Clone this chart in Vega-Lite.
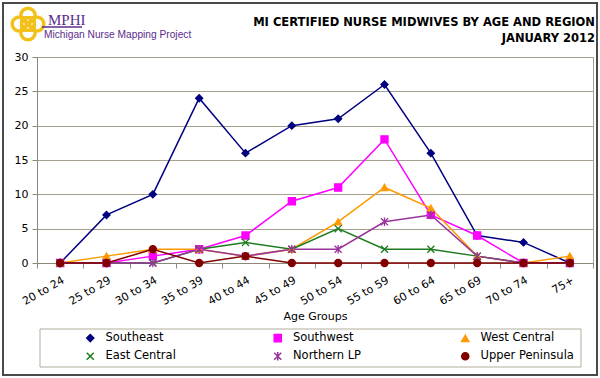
{
  "$schema": "https://vega.github.io/schema/vega-lite/v6.json",
  "width": 556,
  "height": 206,
  "autosize": {"type": "none"},
  "padding": {"left": 37, "top": 57, "right": 7, "bottom": 115},
  "background": "white",
  "title": {
    "text": ["MI CERTIFIED NURSE MIDWIVES BY AGE AND REGION", "JANUARY 2012"],
    "anchor": "end",
    "font": "DejaVu Sans",
    "fontSize": 11.5,
    "fontWeight": "bold",
    "lineHeight": 16,
    "color": "black",
    "offset": -43,
    "dx": -3
  },
  "config": {
    "view": {"stroke": "#A6A18E", "strokeWidth": 1},
    "font": "DejaVu Sans",
    "legend": {
      "direction": "horizontal",
      "columns": 3,
      "gridAlign": "all",
      "columnPadding": 71.5,
      "rowPadding": 3.5,
      "padding": 0,
      "labelFont": "DejaVu Sans",
      "labelFontSize": 11.5,
      "labelColor": "black",
      "labelOffset": 9.5,
      "labelLimit": 200,
      "symbolSize": 50,
      "symbolStrokeWidth": 1.5
    }
  },
  "layer": [
    {
      "data": {"values": [{"k": 1}]},
      "mark": {"type": "rect", "filled": false, "stroke": "#4a4a4a", "strokeWidth": 2},
      "encoding": {"x": {"value": -34}, "x2": {"value": 560}, "y": {"value": -54}, "y2": {"value": 318}}
    },
    {
      "data": {"values": [{"k": 1}]},
      "mark": {"type": "rect", "filled": false, "stroke": "#B3AD9B", "strokeWidth": 1},
      "encoding": {"x": {"value": 3}, "x2": {"value": 544}, "y": {"value": 272}, "y2": {"value": 310}}
    },
    {
      "data": {"values": [{"k": 1}]},
      "mark": {"type": "point", "shape": "M0.1,0A0.45,0.45,0,1,1,1,0A0.45,0.45,0,1,1,0.1,0ZM-1,0A0.45,0.45,0,1,1,-0.1,0A0.45,0.45,0,1,1,-1,0ZM0,0.1A0.45,0.45,0,1,1,0,1A0.45,0.45,0,1,1,0,0.1ZM0,-1A0.45,0.45,0,1,1,0,-0.1A0.45,0.45,0,1,1,0,-1ZM-0.4,-0.4H0.4V0.4H-0.4Z", "filled": false, "stroke": "#F2C21B", "strokeWidth": 3.5, "size": 1000, "opacity": 1},
      "encoding": {"x": {"value": -9}, "y": {"value": -33}}
    },
    {
      "data": {"values": [{"t": "MPHI"}]},
      "mark": {"type": "text", "font": "Liberation Serif", "fontSize": 15, "color": "#5B2C8C", "align": "left", "baseline": "alphabetic"},
      "encoding": {"text": {"field": "t"}, "x": {"value": 11}, "y": {"value": -32}}
    },
    {
      "data": {"values": [{"k": 1}]},
      "mark": {"type": "rule", "color": "#5B2C8C", "strokeWidth": 1.5},
      "encoding": {"x": {"value": 5}, "x2": {"value": 45}, "y": {"value": -30}}
    },
    {
      "data": {"values": [{"t": "Michigan Nurse Mapping Project"}]},
      "mark": {"type": "text", "font": "Liberation Sans", "fontSize": 10.2, "color": "#5B2C8C", "align": "left", "baseline": "alphabetic"},
      "encoding": {"text": {"field": "t"}, "x": {"value": 7}, "y": {"value": -19}}
    },
    {
      "data": {
        "values": [
          {"age": "20 to 24", "region": "Southeast", "count": 0},
          {"age": "25 to 29", "region": "Southeast", "count": 7},
          {"age": "30 to 34", "region": "Southeast", "count": 10},
          {"age": "35 to 39", "region": "Southeast", "count": 24},
          {"age": "40 to 44", "region": "Southeast", "count": 16},
          {"age": "45 to 49", "region": "Southeast", "count": 20},
          {"age": "50 to 54", "region": "Southeast", "count": 21},
          {"age": "55 to 59", "region": "Southeast", "count": 26},
          {"age": "60 to 64", "region": "Southeast", "count": 16},
          {"age": "65 to 69", "region": "Southeast", "count": 4},
          {"age": "70 to 74", "region": "Southeast", "count": 3},
          {"age": "75+", "region": "Southeast", "count": 0},
          {"age": "20 to 24", "region": "Southwest", "count": 0},
          {"age": "25 to 29", "region": "Southwest", "count": 0},
          {"age": "30 to 34", "region": "Southwest", "count": 1},
          {"age": "35 to 39", "region": "Southwest", "count": 2},
          {"age": "40 to 44", "region": "Southwest", "count": 4},
          {"age": "45 to 49", "region": "Southwest", "count": 9},
          {"age": "50 to 54", "region": "Southwest", "count": 11},
          {"age": "55 to 59", "region": "Southwest", "count": 18},
          {"age": "60 to 64", "region": "Southwest", "count": 7},
          {"age": "65 to 69", "region": "Southwest", "count": 4},
          {"age": "70 to 74", "region": "Southwest", "count": 0},
          {"age": "75+", "region": "Southwest", "count": 0},
          {"age": "20 to 24", "region": "West Central", "count": 0},
          {"age": "25 to 29", "region": "West Central", "count": 1},
          {"age": "30 to 34", "region": "West Central", "count": 2},
          {"age": "35 to 39", "region": "West Central", "count": 2},
          {"age": "40 to 44", "region": "West Central", "count": 1},
          {"age": "45 to 49", "region": "West Central", "count": 2},
          {"age": "50 to 54", "region": "West Central", "count": 6},
          {"age": "55 to 59", "region": "West Central", "count": 11},
          {"age": "60 to 64", "region": "West Central", "count": 8},
          {"age": "65 to 69", "region": "West Central", "count": 1},
          {"age": "70 to 74", "region": "West Central", "count": 0},
          {"age": "75+", "region": "West Central", "count": 1},
          {"age": "20 to 24", "region": "East Central", "count": 0},
          {"age": "25 to 29", "region": "East Central", "count": 0},
          {"age": "30 to 34", "region": "East Central", "count": 0},
          {"age": "35 to 39", "region": "East Central", "count": 2},
          {"age": "40 to 44", "region": "East Central", "count": 3},
          {"age": "45 to 49", "region": "East Central", "count": 2},
          {"age": "50 to 54", "region": "East Central", "count": 5},
          {"age": "55 to 59", "region": "East Central", "count": 2},
          {"age": "60 to 64", "region": "East Central", "count": 2},
          {"age": "65 to 69", "region": "East Central", "count": 1},
          {"age": "70 to 74", "region": "East Central", "count": 0},
          {"age": "75+", "region": "East Central", "count": 0},
          {"age": "20 to 24", "region": "Northern LP", "count": 0},
          {"age": "25 to 29", "region": "Northern LP", "count": 0},
          {"age": "30 to 34", "region": "Northern LP", "count": 0},
          {"age": "35 to 39", "region": "Northern LP", "count": 2},
          {"age": "40 to 44", "region": "Northern LP", "count": 1},
          {"age": "45 to 49", "region": "Northern LP", "count": 2},
          {"age": "50 to 54", "region": "Northern LP", "count": 2},
          {"age": "55 to 59", "region": "Northern LP", "count": 6},
          {"age": "60 to 64", "region": "Northern LP", "count": 7},
          {"age": "65 to 69", "region": "Northern LP", "count": 1},
          {"age": "70 to 74", "region": "Northern LP", "count": 0},
          {"age": "75+", "region": "Northern LP", "count": 0},
          {"age": "20 to 24", "region": "Upper Peninsula", "count": 0},
          {"age": "25 to 29", "region": "Upper Peninsula", "count": 0},
          {"age": "30 to 34", "region": "Upper Peninsula", "count": 2},
          {"age": "35 to 39", "region": "Upper Peninsula", "count": 0},
          {"age": "40 to 44", "region": "Upper Peninsula", "count": 1},
          {"age": "45 to 49", "region": "Upper Peninsula", "count": 0},
          {"age": "50 to 54", "region": "Upper Peninsula", "count": 0},
          {"age": "55 to 59", "region": "Upper Peninsula", "count": 0},
          {"age": "60 to 64", "region": "Upper Peninsula", "count": 0},
          {"age": "65 to 69", "region": "Upper Peninsula", "count": 0},
          {"age": "70 to 74", "region": "Upper Peninsula", "count": 0},
          {"age": "75+", "region": "Upper Peninsula", "count": 0}
        ]
      },
      "encoding": {
        "x": {
          "field": "age",
          "type": "ordinal",
          "sort": ["20 to 24", "25 to 29", "30 to 34", "35 to 39", "40 to 44", "45 to 49", "50 to 54", "55 to 59", "60 to 64", "65 to 69", "70 to 74", "75+"],
          "scale": {"type": "band", "paddingInner": 0, "paddingOuter": 0},
          "axis": {
            "title": "Age Groups",
            "titleFont": "DejaVu Sans",
            "titleFontSize": 11,
            "titleFontWeight": "normal",
            "titleColor": "black",
            "titlePadding": 4,
            "labelAngle": -30,
            "labelAlign": "right",
            "labelBaseline": "top",
            "labelFont": "DejaVu Sans",
            "labelFontSize": 11,
            "labelColor": "black",
            "labelPadding": 6,
            "tickBand": "extent",
            "ticks": true,
            "tickSize": 5,
            "tickColor": "#8C8878",
            "domainColor": "#8C8878",
            "grid": false
          }
        },
        "y": {
          "field": "count",
          "type": "quantitative",
          "scale": {"domain": [0, 30], "nice": false},
          "axis": {
            "title": null,
            "values": [0, 5, 10, 15, 20, 25, 30],
            "grid": true,
            "gridColor": "#A6A18E",
            "labelFont": "DejaVu Sans",
            "labelFontSize": 11,
            "labelColor": "black",
            "labelPadding": 4,
            "tickSize": 5,
            "tickColor": "#8C8878",
            "domainColor": "#8C8878"
          }
        }
      },
      "layer": [
        {
          "mark": {"type": "line", "strokeWidth": 1.5},
          "encoding": {
            "stroke": {
              "field": "region",
              "type": "nominal",
              "scale": {
                "domain": ["Southeast", "Southwest", "West Central", "East Central", "Northern LP", "Upper Peninsula"],
                "range": ["#000080", "#FF00FF", "#FF9900", "#1E7B1E", "#993399", "#800000"]
              },
              "legend": {"title": null, "orient": "none", "legendX": 47.5, "legendY": 275}
            }
          }
        },
        {
          "mark": {"type": "point", "filled": true, "size": 50, "strokeWidth": 1.3, "opacity": 1},
          "encoding": {
            "fill": {
              "field": "region",
              "type": "nominal",
              "scale": {
                "domain": ["Southeast", "Southwest", "West Central", "East Central", "Northern LP", "Upper Peninsula"],
                "range": ["#000080", "#FF00FF", "#FF9900", "#1E7B1E", "#993399", "#800000"]
              },
              "legend": {"title": null, "orient": "none", "legendX": 47.5, "legendY": 275}
            },
            "stroke": {
              "field": "region",
              "type": "nominal",
              "scale": {
                "domain": ["Southeast", "Southwest", "West Central", "East Central", "Northern LP", "Upper Peninsula"],
                "range": ["#000080", "#FF00FF", "#FF9900", "#1E7B1E", "#993399", "#800000"]
              },
              "legend": {"title": null, "orient": "none", "legendX": 47.5, "legendY": 275}
            },
            "shape": {
              "field": "region",
              "type": "nominal",
              "scale": {
                "domain": ["Southeast", "Southwest", "West Central", "East Central", "Northern LP", "Upper Peninsula"],
                "range": ["diamond", "square", "triangle-up", "M-1,-1L1,1M-1,1L1,-1", "M-1,-1L1,1M-1,1L1,-1M0,-1.2L0,1.2", "circle"]
              },
              "legend": {"title": null, "orient": "none", "legendX": 47.5, "legendY": 275}
            }
          }
        }
      ]
    }
  ]
}
